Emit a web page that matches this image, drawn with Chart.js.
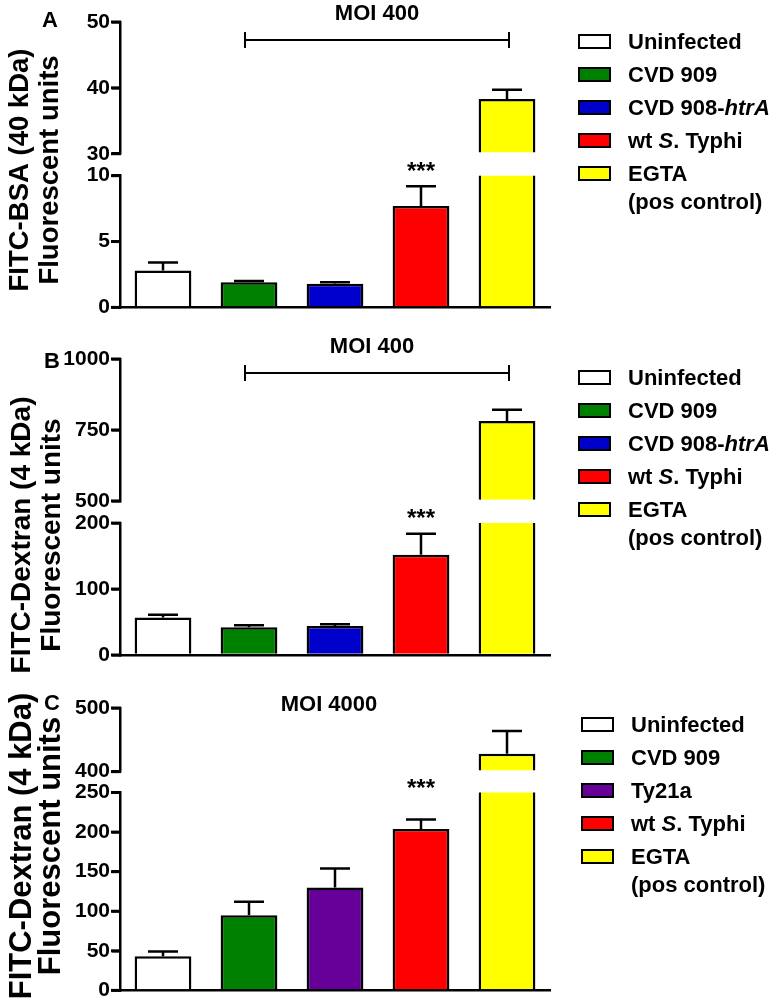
<!DOCTYPE html>
<html>
<head>
<meta charset="utf-8">
<script src="https://cdn.jsdelivr.net/npm/chart.js@4.4.0/dist/chart.umd.min.js"></script>
<style>
  html, body { margin: 0; padding: 0; background: #fff; }
  body { width: 784px; height: 1005px; position: relative; overflow: hidden;
         font-family: 'Liberation Sans', Arial, sans-serif; }
  .panel { position: absolute; left: 0; }
  .legend { position: absolute; margin: 0; padding: 0; list-style: none;
            font-weight: bold; font-size: 22px; color: #000; }
  .legend li { display: flex; align-items: flex-start; line-height: 28px; margin-bottom: 5px; white-space: nowrap; }
  .legend .box { flex: none; width: 29px; height: 11px; border: 2px solid #000; margin: 6px 17px 0 0; }
</style>
</head>
<body>
<div class="panel" style="top:0px"><canvas id="chartA" width="784" height="322"></canvas></div>
<div class="panel" style="top:330px"><canvas id="chartB" width="784" height="346"></canvas></div>
<div class="panel" style="top:668px"><canvas id="chartC" width="784" height="337"></canvas></div>
<ul class="legend" id="legendA" style="left:578px; top:28px"></ul>
<ul class="legend" id="legendB" style="left:578px; top:364px"></ul>
<ul class="legend" id="legendC" style="left:581px; top:711px"></ul>

<script>
// categories and colours
const groupsAB = ['Uninfected', 'CVD 909', 'CVD 908-htrA', 'wt S. Typhi', ['EGTA', '(pos control)']];
const groupsC = ['Uninfected', 'CVD 909', 'Ty21a', 'wt S. Typhi', ['EGTA', '(pos control)']];
const colorsAB = ['#ffffff', '#008000', '#0000cc', '#ff0000', '#ffff00'];
const colorsC = ['#ffffff', '#008000', '#660099', '#ff0000', '#ffff00'];
const italicWords = ['htrA', 'S'];

// A: FITC-BSA (40 kDa), MOI 400
const bsaMean = [2.8, 1.9, 1.8, 7.7, 38.3];
const bsaSem = [0.6, 0.1, 0.1, 1.5, 1.4];
const bsaTicksLow = [0, 5, 10];
const bsaTicksHigh = [30, 40, 50];

// B: FITC-Dextran (4 kDa), MOI 400
const dex400Mean = [57, 42, 44, 152, 782];
const dex400Sem = [4, 3, 2.5, 32, 39];
const dex400TicksLow = [0, 100, 200];
const dex400TicksHigh = [500, 750, 1000];

// C: FITC-Dextran (4 kDa), MOI 4000
const dex4000Mean = [43, 95, 130, 204, 428];
const dex4000Sem = [6, 17, 24, 12, 36];
const dex4000TicksLow = [0, 50, 100, 150, 200, 250];
const dex4000TicksHigh = [400, 500];

const FONT = "'Liberation Sans', Arial, sans-serif";

const errorBars = {
  id: 'errorBars',
  afterDatasetsDraw(chart) {
    const ctx = chart.ctx;
    ctx.save();
    ctx.strokeStyle = '#000';
    ctx.lineWidth = 2.5;
    chart.data.datasets.forEach((ds, di) => {
      const meta = chart.getDatasetMeta(di);
      const yScale = chart.scales[ds.yAxisID];
      meta.data.forEach((bar, i) => {
        const v = ds.data[i];
        if (v == null || v > yScale.max) return;
        const y0 = yScale.getPixelForValue(v);
        const y1 = yScale.getPixelForValue(v + ds.errors[i]);
        ctx.beginPath();
        ctx.moveTo(bar.x, y0);
        ctx.lineTo(bar.x, y1);
        ctx.moveTo(bar.x - 15, y1);
        ctx.lineTo(bar.x + 15, y1);
        ctx.stroke();
      });
    });
    ctx.restore();
  }
};

// tick marks on the two value axes
const axisTicks = {
  id: 'axisTicks',
  afterDraw(chart) {
    const ctx = chart.ctx;
    const left = chart.chartArea.left;
    ctx.save();
    ctx.strokeStyle = '#000';
    ctx.lineWidth = 3;
    ['yHigh', 'yLow'].forEach(id => {
      const s = chart.scales[id];
      s.ticks.forEach(t => {
        const y = s.getPixelForValue(t.value);
        ctx.beginPath();
        ctx.moveTo(left - 9, y);
        ctx.lineTo(left + 1, y);
        ctx.stroke();
      });
    });
    ctx.restore();
  }
};

const panelDecor = {
  id: 'panelDecor',
  afterDraw(chart, args, o) {
    const ctx = chart.ctx;
    const x = chart.scales.x;
    const gap = chart.scales.yGap;
    ctx.save();
    ctx.fillStyle = '#000';
    ctx.strokeStyle = '#000';
    ctx.textAlign = 'center';
    ctx.textBaseline = 'middle';

    ctx.font = 'bold 22px ' + FONT;
    ctx.fillText(o.letter, o.letterX, o.letterY);

    ctx.fillText(o.title, o.titleX, o.titleY);

    if (o.bracket) {
      const x1 = x.getPixelForValue(o.bracket[0]) - 4;
      const x2 = x.getPixelForValue(o.bracket[1]) + 2;
      ctx.lineWidth = 2;
      ctx.beginPath();
      ctx.moveTo(x1, o.bracketY); ctx.lineTo(x2, o.bracketY);
      ctx.moveTo(x1, o.bracketY - 8); ctx.lineTo(x1, o.bracketY + 8);
      ctx.moveTo(x2, o.bracketY - 8); ctx.lineTo(x2, o.bracketY + 8);
      ctx.stroke();
    }

    ctx.font = 'bold 24px ' + FONT;
    ctx.textBaseline = 'alphabetic';
    ctx.fillText('***', x.getPixelForValue(o.starsAt), (gap.top + gap.bottom) / 2 + 14);

    ctx.font = 'bold ' + o.yTitleSize + 'px ' + FONT;
    ctx.textBaseline = 'middle';
    o.yTitle.forEach((line, k) => {
      ctx.save();
      ctx.translate(o.yTitleX[k], o.yTitleY);
      ctx.rotate(-Math.PI / 2);
      ctx.fillText(line, 0, 0);
      ctx.restore();
    });
    ctx.restore();
  }
};

const htmlLegend = {
  id: 'htmlLegend',
  afterUpdate(chart, args, o) {
    const ul = document.getElementById(o.containerID);
    const colors = chart.data.datasets[0].backgroundColor;
    const re = new RegExp('\\b(' + italicWords.join('|') + ')\\b', 'g');
    ul.innerHTML = '';
    chart.data.labels.forEach((label, i) => {
      const li = document.createElement('li');
      const box = document.createElement('span');
      box.className = 'box';
      box.style.background = colors[i];
      const txt = document.createElement('span');
      const lines = Array.isArray(label) ? label : [label];
      txt.innerHTML = lines.map(s => s.replace(re, '<i>$1</i>')).join('<br>');
      li.appendChild(box);
      li.appendChild(txt);
      ul.appendChild(li);
    });
  }
};

function tickAxis(ticks, weight, stackWeight) {
  return {
    type: 'linear',
    stack: 'y',
    weight: weight,
    stackWeight: stackWeight,
    min: ticks[0],
    max: ticks[ticks.length - 1],
    afterBuildTicks: s => { s.ticks = ticks.map(v => ({ value: v })); },
    afterFit: s => { s.width = 120; },
    border: { display: true, color: '#000', width: 2.5 },
    grid: { display: true, drawOnChartArea: false, drawTicks: true, tickLength: 8,
            color: '#000', lineWidth: 2.5, tickColor: '#000', tickWidth: 2.5 },
    ticks: { color: '#000', padding: 2, autoSkip: false, callback: v => String(v),
             font: { family: FONT, size: 21, weight: 'bold' } }
  };
}

function makePanel(id, cfg) {
  const highMin = cfg.ticksHigh[0];
  const common = {
    backgroundColor: cfg.colors,
    borderColor: '#000',
    borderWidth: 2.5,
    borderSkipped: 'start',
    barPercentage: 0.66,
    categoryPercentage: 1,
    grouped: false
  };
  return new Chart(document.getElementById(id), {
    type: 'bar',
    data: {
      labels: cfg.labels,
      datasets: [
        Object.assign({ label: 'low', data: cfg.mean, errors: cfg.sem, yAxisID: 'yLow' }, common),
        Object.assign({ label: 'high', data: cfg.mean.map(v => v >= highMin ? v : null),
                        errors: cfg.sem, yAxisID: 'yHigh', base: highMin }, common)
      ]
    },
    options: {
      responsive: false,
      animation: false,
      layout: { padding: { left: 0, right: 234, top: cfg.padTop, bottom: cfg.padBottom } },
      scales: {
        x: {
          ticks: { display: false },
          grid: { display: false, drawTicks: false },
          border: { display: true, color: '#000', width: 2.5 }
        },
        yHigh: tickAxis(cfg.ticksHigh, 3, cfg.weights[0]),
        yGap: {
          type: 'linear', stack: 'y', weight: 2, stackWeight: cfg.weights[1], min: 0, max: 1,
          afterFit: s => { s.width = 120; },
          border: { display: false }, grid: { display: false }, ticks: { display: false }
        },
        yLow: tickAxis(cfg.ticksLow, 1, cfg.weights[2])
      },
      plugins: {
        legend: { display: false },
        tooltip: { enabled: false },
        htmlLegend: { containerID: cfg.legendID },
        panelDecor: cfg.decor
      }
    },
    plugins: [errorBars, axisTicks, panelDecor, htmlLegend]
  });
}

makePanel('chartA', {
  labels: groupsAB, colors: colorsAB, mean: bsaMean, sem: bsaSem,
  ticksLow: bsaTicksLow, ticksHigh: bsaTicksHigh, weights: [132, 22, 132], padTop: 22, padBottom: 12,
  legendID: 'legendA',
  decor: { letter: 'A', letterX: 50, letterY: 21, title: 'MOI 400', titleX: 377, titleY: 14,
           bracket: [1, 4], bracketY: 40, starsAt: 3,
           yTitle: ['FITC-BSA (40 kDa)', 'Fluorescent units'], yTitleX: [20, 50], yTitleY: 170, yTitleSize: 27.5 }
});

makePanel('chartB', {
  labels: groupsAB, colors: colorsAB, mean: dex400Mean, sem: dex400Sem,
  ticksLow: dex400TicksLow, ticksHigh: dex400TicksHigh, weights: [141, 22, 131], padTop: 29, padBottom: 21,
  legendID: 'legendB',
  decor: { letter: 'B', letterX: 52, letterY: 32, title: 'MOI 400', titleX: 372, titleY: 17,
           bracket: [1, 4], bracketY: 43, starsAt: 3,
           yTitle: ['FITC-Dextran (4 kDa)', 'Fluorescent units'], yTitleX: [22, 52], yTitleY: 205, yTitleSize: 28 }
});

makePanel('chartC', {
  labels: groupsC, colors: colorsC, mean: dex4000Mean, sem: dex4000Sem,
  ticksLow: dex4000TicksLow, ticksHigh: dex4000TicksHigh, weights: [64, 21, 199], padTop: 40, padBottom: 12,
  legendID: 'legendC',
  decor: { letter: 'C', letterX: 52, letterY: 36, title: 'MOI 4000', titleX: 329, titleY: 37,
           bracket: null, starsAt: 3,
           yTitle: ['FITC-Dextran (4 kDa)', 'Fluorescent units'], yTitleX: [22, 51], yTitleY: 178, yTitleSize: 31 }
});
</script>
</body>
</html>
